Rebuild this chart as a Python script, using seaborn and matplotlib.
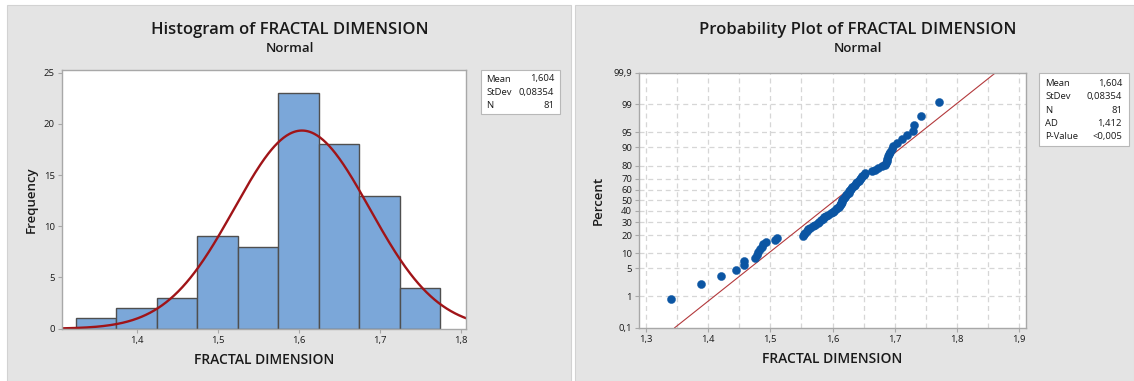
import numpy as np
import pandas as pd
import matplotlib
matplotlib.use("Agg")
import matplotlib.pyplot as plt
from matplotlib.patches import Rectangle
from matplotlib.ticker import FuncFormatter, FixedLocator
import seaborn as sns
from statistics import NormalDist

# ---------------- data ----------------
fractal_dimension = [
    1.340, 1.388, 1.421, 1.445, 1.457, 1.458, 1.476, 1.478, 1.481, 1.484,
    1.486, 1.489, 1.493, 1.508, 1.510, 1.552, 1.554, 1.556, 1.559, 1.561,
    1.564, 1.568, 1.572, 1.576, 1.578, 1.581, 1.584, 1.587, 1.590, 1.593,
    1.597, 1.600, 1.603, 1.606, 1.608, 1.610, 1.612, 1.613, 1.614, 1.615,
    1.616, 1.617, 1.618, 1.620, 1.622, 1.624, 1.626, 1.627, 1.628, 1.630,
    1.632, 1.634, 1.636, 1.638, 1.640, 1.642, 1.644, 1.646, 1.648, 1.650,
    1.652, 1.664, 1.668, 1.673, 1.680, 1.684, 1.686, 1.687, 1.688, 1.689,
    1.691, 1.693, 1.695, 1.698, 1.703, 1.711, 1.719, 1.730, 1.731, 1.743,
    1.771,
]
bin_edges = [1.325, 1.375, 1.425, 1.475, 1.525, 1.575, 1.625, 1.675, 1.725, 1.775]
mean_value = 1.604
stdev_value = 0.08354
n_value = 81
hist_stats_labels = ["Mean", "StDev", "N"]
hist_stats_values = ["1,604", "0,08354", "81"]
prob_stats_labels = ["Mean", "StDev", "N", "AD", "P-Value"]
prob_stats_values = ["1,604", "0,08354", "81", "1,412", "<0,005"]
hist_xticks = [1.4, 1.5, 1.6, 1.7, 1.8]
hist_yticks = [0, 5, 10, 15, 20, 25]
prob_xticks = [1.3, 1.4, 1.5, 1.6, 1.7, 1.8, 1.9]
prob_yticks = [0.1, 1, 5, 10, 20, 30, 40, 50, 60, 70, 80, 90, 95, 99, 99.9]

# ---------------- style ----------------
sns.set_theme(style="white")
plt.rcParams['font.family'] = ['Open Sans', 'DejaVu Sans']

W, H = 1134, 381
fig = plt.figure(figsize=(W / 100, H / 100), dpi=100)
fig.patch.set_facecolor('white')


def px_rect(x0, y0, x1, y1):
    return [x0 / W, 1 - y1 / H, (x1 - x0) / W, (y1 - y0) / H]


def fx(x):
    return x / W


def fy(y):
    return 1 - y / H


panel_bg = '#E4E4E4'
fig.patches.append(Rectangle((fx(7), 0), (571 - 7) / W, (381 - 5) / H, transform=fig.transFigure,
                             facecolor=panel_bg, edgecolor='#D2D2D2', lw=0.8, zorder=-10))
fig.patches.append(Rectangle((fx(575), 0), (1134 - 575) / W, (381 - 5) / H, transform=fig.transFigure,
                             facecolor=panel_bg, edgecolor='#D2D2D2', lw=0.8, zorder=-10))

comma = FuncFormatter(lambda v, p: f"{v:g}".replace('.', ','))
text_col = '#1A1A1A'
spine_col = '#A8A8A8'
tick_fs = 6.8


def style_axes(ax):
    ax.set_facecolor('white')
    for s in ax.spines.values():
        s.set_color(spine_col)
        s.set_linewidth(1.0)
    ax.tick_params(axis='both', which='both', length=3, width=0.8, color=spine_col,
                   labelsize=tick_fs, labelcolor=text_col, pad=2, direction='out',
                   bottom=True, left=True)


# ---------------- histogram ----------------
ax1 = fig.add_axes(px_rect(61.7, 70, 466, 328.7))
style_axes(ax1)
sns.histplot(x=fractal_dimension, bins=bin_edges, ax=ax1, color='#7BA7D9', edgecolor='#4F4F4F',
             linewidth=1.0, alpha=1.0, stat='count')
xlim1 = (1.3074, 1.8065)
xs = np.linspace(xlim1[0], xlim1[1], 400)
bw = bin_edges[1] - bin_edges[0]
ys = n_value * bw * np.exp(-0.5 * ((xs - mean_value) / stdev_value) ** 2) / (stdev_value * np.sqrt(2 * np.pi))
sns.lineplot(x=xs, y=ys, ax=ax1, color='#A01418', linewidth=1.7)
ax1.set_xlim(*xlim1)
ax1.set_ylim(0, 25.25)
ax1.xaxis.set_major_locator(FixedLocator(hist_xticks))
ax1.yaxis.set_major_locator(FixedLocator(hist_yticks))
ax1.xaxis.set_major_formatter(comma)
ax1.set_xlabel("FRACTAL DIMENSION", fontsize=10, color=text_col, fontweight='semibold', labelpad=6)
ax1.set_ylabel("Frequency", fontsize=9.5, color=text_col, fontweight='semibold', labelpad=4)

fig.text(fx(290), fy(30), "Histogram of FRACTAL DIMENSION", ha='center', va='center',
         fontsize=12, fontweight='semibold', color=text_col)
fig.text(fx(290), fy(49), "Normal", ha='center', va='center', fontsize=9.5,
         fontweight='semibold', color=text_col)

# stats box left
fig.patches.append(Rectangle((fx(480.5), fy(114)), (560 - 480.5) / W, (114 - 69.5) / H,
                             transform=fig.transFigure, facecolor='white', edgecolor='#B8B8B8',
                             lw=0.8, zorder=2))
for k, (lab, val) in enumerate(zip(hist_stats_labels, hist_stats_values)):
    yy = 79 + k * 13.5
    fig.text(fx(486), fy(yy), lab, ha='left', va='center', fontsize=6.8, color=text_col, zorder=3)
    fig.text(fx(554), fy(yy), val, ha='right', va='center', fontsize=6.8, color=text_col, zorder=3)

# ---------------- probability plot ----------------
ax2 = fig.add_axes(px_rect(639, 72.7, 1026, 328))
style_axes(ax2)
nd = NormalDist()
data_sorted = np.sort(np.array(fractal_dimension))
ranks = np.arange(1, len(data_sorted) + 1)
pct = (ranks - 0.3) / (len(data_sorted) + 0.4)
zq = np.array([nd.inv_cdf(p) for p in pct])
df_prob = pd.DataFrame({"x": data_sorted, "z": zq})

zlo, zhi = nd.inv_cdf(0.001), nd.inv_cdf(0.999)
# grid
for gx in np.arange(1.3, 1.9001, 0.05):
    ax2.axvline(gx, color='#D6D6D6', lw=0.9, ls=(0, (4, 3)), zorder=0)
for gp in prob_yticks[1:-1]:
    ax2.axhline(nd.inv_cdf(gp / 100), color='#D6D6D6', lw=0.9, ls=(0, (4, 3)), zorder=0)

fit_z = np.array([zlo, zhi])
fit_x = mean_value + fit_z * stdev_value
sns.lineplot(x=fit_x, y=fit_z, ax=ax2, color='#B3393C', linewidth=0.8, zorder=2)
sns.scatterplot(data=df_prob, x="x", y="z", ax=ax2, color='#0B55A3', s=34, edgecolor='#0B55A3',
                linewidth=0.3, zorder=3)
ax2.set_xlim(1.289, 1.911)
ax2.set_ylim(zlo, zhi)
ax2.xaxis.set_major_locator(FixedLocator(prob_xticks))
ax2.xaxis.set_major_formatter(comma)
ax2.yaxis.set_major_locator(FixedLocator([nd.inv_cdf(p / 100) for p in prob_yticks]))
ax2.yaxis.set_major_formatter(FuncFormatter(
    lambda v, p: f"{prob_yticks[p]:g}".replace('.', ',') if p is not None and p < len(prob_yticks) else ""))
ax2.set_xlabel("FRACTAL DIMENSION", fontsize=10, color=text_col, fontweight='semibold', labelpad=6)
ax2.set_ylabel("Percent", fontsize=9.5, color=text_col, fontweight='semibold', labelpad=6)

fig.text(fx(858), fy(30), "Probability Plot of FRACTAL DIMENSION", ha='center', va='center',
         fontsize=12, fontweight='semibold', color=text_col)
fig.text(fx(858), fy(49), "Normal", ha='center', va='center', fontsize=9.5,
         fontweight='semibold', color=text_col)

fig.patches.append(Rectangle((fx(1039), fy(145.5)), (1129 - 1039) / W, (145.5 - 72.7) / H,
                             transform=fig.transFigure, facecolor='white', edgecolor='#B8B8B8',
                             lw=0.8, zorder=2))
for k, (lab, val) in enumerate(zip(prob_stats_labels, prob_stats_values)):
    yy = 83.5 + k * 13.3
    fig.text(fx(1045), fy(yy), lab, ha='left', va='center', fontsize=6.8, color=text_col, zorder=3)
    fig.text(fx(1122), fy(yy), val, ha='right', va='center', fontsize=6.8, color=text_col, zorder=3)

fig.savefig("out.png", dpi=100, facecolor=fig.get_facecolor())
